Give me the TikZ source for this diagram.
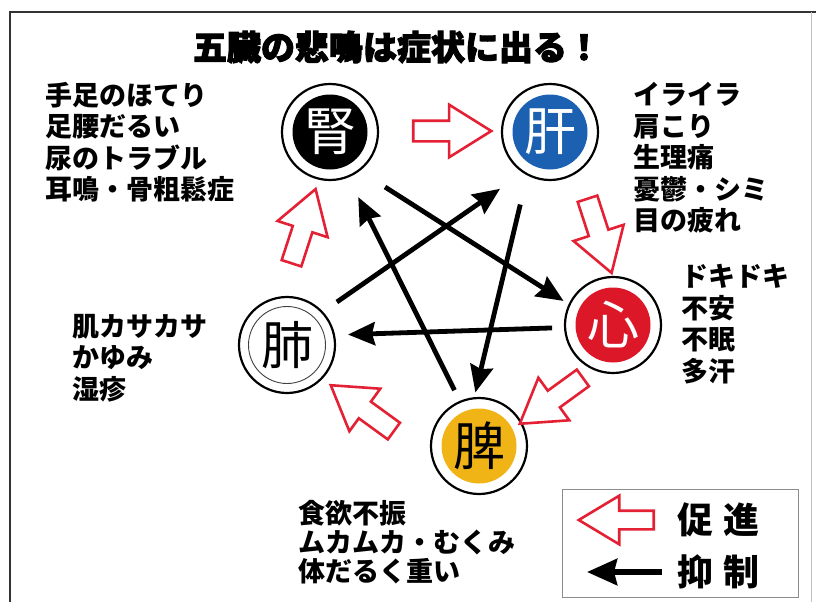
\documentclass[tikz,border=0pt]{standalone}
\usepackage{fontspec}
\usetikzlibrary{arrows.meta,shapes.arrows,calc}
\newfontfamily\jp{Noto Sans CJK JP}
\newfontfamily\jptitle{Noto Sans CJK JP}[BoldFeatures={FakeBold=3}]
\definecolor{promred}{RGB}{228,32,52}
\definecolor{livblue}{RGB}{28,96,178}
\definecolor{hrtred}{RGB}{220,24,40}
\definecolor{splyel}{RGB}{240,180,22}

\begin{document}
\begin{tikzpicture}[x=1pt,y=-1pt,
    organ/.style={circle,draw,line width=2.2pt,minimum size=96pt,inner sep=0pt,outer sep=0pt,
      font=\jp\fontsize{52}{52}\selectfont},
    core/.style={path picture={\fill[#1] (path picture bounding box.center) circle (37.5pt);}},
    inh/.style={line width=4.8pt,-{Stealth[length=27pt,width=23pt,inset=3pt]}},
    prom/.style={single arrow,draw=promred,line width=2.6pt,fill=white,inner sep=9pt,outer sep=0pt,
      single arrow head extend=16pt,single arrow tip angle=64,minimum height=78pt},
    symp/.style={align=left,anchor=west,inner sep=0pt,font=\jp\bfseries\fontsize{27}{31.5}\selectfont}]
      \useasboundingbox (0,0) rectangle (816,602);
      % frame
      \draw[line width=1.8pt,black!80] (10,602) -- (10,12) -- (816,12);
      \draw[line width=0.6pt,black!25] (811,12) -- (811,602);
      \node[font=\jptitle\bfseries\fontsize{34}{34}\selectfont] (title) at (397,47) {五臓の悲鳴は症状に出る！};
      % five organs
      \node[organ,core=black,text=white] (kid) at (330,132) {腎};
      \node[organ,core=livblue,text=white] (liv) at (550,132) {肝};
      \node[organ,core=hrtred,text=white] (hrt) at (613,325) {心};
      \node[organ,core=splyel] (spl) at (479,446) {脾};
      \node[organ,path picture={\draw[line width=0.9pt,black!75] (path picture bounding box.center) circle (38.5pt);}] (lng) at (287,345) {肺};
      % promotion
      \node[prom] (p1) at (444,131) {};
      \node[prom,rotate=-72] (p2) at (597,228) {};
      \node[prom,rotate=-144] (p3) at (558,396) {};
      \node[prom,rotate=144] (p4) at (369,413) {};
      \node[prom,rotate=72] (p5) at (301,234) {};
      % inhibition
      \draw[inh,shorten <=31pt,shorten >=7pt] (kid.-53) -- (hrt.155);
      \draw[inh,shorten <=31pt,shorten >=6pt] (liv.-118) -- (spl.96);
      \draw[inh,shorten <=13pt,shorten >=14pt] (hrt.-177) -- (lng.12);
      \draw[inh,shorten <=13pt,shorten >=23pt] (spl.113) -- (kid.-68);
      \draw[inh,shorten <=18pt,shorten >=29pt] (lng.43) -- (liv.-123);
      % symptoms
      \node[symp] (tkid) at (45,142) {手足のほてり\\足腰だるい\\尿のトラブル\\耳鳴・骨粗鬆症};
      \node[symp] (tliv) at (633,158) {イライラ\\肩こり\\生理痛\\憂鬱・シミ\\目の疲れ};
      \node[symp] (thrt) at (681,324) {ドキドキ\\不安\\不眠\\多汗};
      \node[symp] (tlng) at (72,358) {肌カサカサ\\かゆみ\\湿疹};
      \node[symp,font=\jp\bfseries\fontsize{27}{29}\selectfont] (tspl) at (298,542) {食欲不振\\ムカムカ・むくみ\\体だるく重い};
      % legend
      \draw[line width=0.8pt,black!45] (562,489) rectangle (798,597);
      \node[prom,rotate=180,inner sep=8pt,single arrow head extend=15pt,single arrow tip angle=62,minimum height=75pt] (lp) at (624,520) {};
      \coordinate (lg1) at (662,572);
      \coordinate (lg2) at (587,572);
      \draw[line width=6pt,-{Stealth[length=30pt,width=26pt,inset=3pt]}] (lg1) -- (lg2);
      \node[anchor=west,inner sep=0pt,font=\jp\bfseries\fontsize{36}{36}\selectfont] (lprom) at (677,520) {促\kern10pt進};
      \node[anchor=west,inner sep=0pt,font=\jp\bfseries\fontsize{36}{36}\selectfont] (linh) at (677,572) {抑\kern10pt制};
    \end{tikzpicture}
\end{document}
